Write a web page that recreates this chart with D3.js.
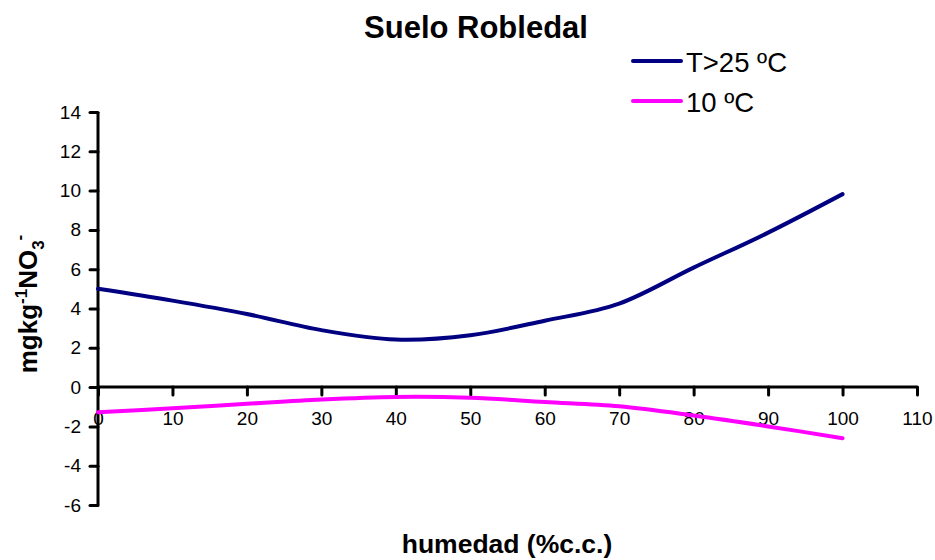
<!DOCTYPE html>
<html><head><meta charset="utf-8">
<script src="https://cdn.jsdelivr.net/npm/d3@7"></script>
<style>body{margin:0;background:#fff;} text{font-family:"Liberation Sans",Arial,sans-serif;}</style>
</head><body>
<svg id="c" width="935" height="560"></svg>
<script>
const humedad = [0,10,20,30,40,50,60,70,80,90,100];
const serieT25 = [5.0,4.4,3.72,2.9,2.42,2.64,3.38,4.25,6.08,7.86,9.82];
const serie10 = [-1.28,-1.08,-0.85,-0.63,-0.5,-0.54,-0.76,-0.98,-1.45,-2.0,-2.6];
const seriesNames = ["T>25 ºC","10 ºC"];
const seriesColors = ["#000080","#FF00FF"];
const xTicks = [0,10,20,30,40,50,60,70,80,90,100,110];
const yTicks = [-6,-4,-2,0,2,4,6,8,10,12,14];

const svg = d3.select("#c");
const x = d3.scaleLinear().domain([0,110]).range([98,917]);
const y = d3.scaleLinear().domain([-6,14]).range([505,112]);
const FF = "Liberation Sans, Arial, sans-serif";

// y axis
const ya = svg.append("g").attr("transform",`translate(${x(0)},0)`)
  .call(d3.axisLeft(y).tickValues(yTicks).tickSize(8).tickPadding(9).tickFormat(d3.format("d")));
ya.select(".domain").attr("stroke","#000").attr("stroke-width",3).attr("d",`M0,${y(-6)}V${y(14)}`);
ya.selectAll(".tick line").attr("stroke-width",3).attr("stroke-linecap","round");
ya.selectAll(".tick text").attr("font-size",19).attr("fill","#000").attr("font-family",FF)
  .text(d=>d<0 ? "-"+Math.abs(d) : d);

// x axis at y=0
const xa = svg.append("g").attr("transform",`translate(0,${y(0)})`)
  .call(d3.axisBottom(x).tickValues(xTicks).tickSize(8).tickPadding(16).tickFormat(d3.format("d")));
xa.select(".domain").attr("stroke","#000").attr("stroke-width",3).attr("d",`M${x(0)},0H${x(110)}`);
xa.selectAll(".tick line").attr("stroke-width",3).attr("stroke-linecap","round");
xa.selectAll(".tick text").attr("font-size",19).attr("fill","#000").attr("font-family",FF);

const line = d3.line().x((d,i)=>x(humedad[i])).y(d=>y(d)).curve(d3.curveCatmullRom.alpha(0));
[serieT25, serie10].forEach((s,k)=>{
  svg.append("path").attr("d",line(s)).attr("fill","none")
    .attr("stroke",seriesColors[k]).attr("stroke-width",4).attr("stroke-linecap","round");
});

// title
svg.append("text").attr("x",476).attr("y",38).attr("text-anchor","middle")
  .attr("font-size",31).attr("font-weight","bold").text("Suelo Robledal");

// legend
seriesNames.forEach((n,k)=>{
  const ly = 61 + k*40;
  svg.append("line").attr("x1",633).attr("x2",681).attr("y1",ly).attr("y2",ly)
    .attr("stroke",seriesColors[k]).attr("stroke-width",4).attr("stroke-linecap","round");
  svg.append("text").attr("x",686).attr("y",ly+10.5).attr("font-size",27.5).text(n);
});

// x axis title
svg.append("text").attr("x",507).attr("y",553).attr("text-anchor","middle")
  .attr("font-size",26.5).attr("font-weight","bold").text("humedad (%c.c.)");

// y axis title
const yt = svg.append("text").attr("transform","translate(37,304) rotate(-90)")
  .attr("text-anchor","middle").attr("font-size",26).attr("font-weight","bold");
yt.append("tspan").text("mgkg");
yt.append("tspan").attr("dy",-10).attr("font-size",17).text("-1");
yt.append("tspan").attr("dy",10).text("NO");
yt.append("tspan").attr("dy",7).attr("font-size",17).text("3");
yt.append("tspan").attr("dy",-19).attr("font-size",17).text("-");
</script>
</body></html>
